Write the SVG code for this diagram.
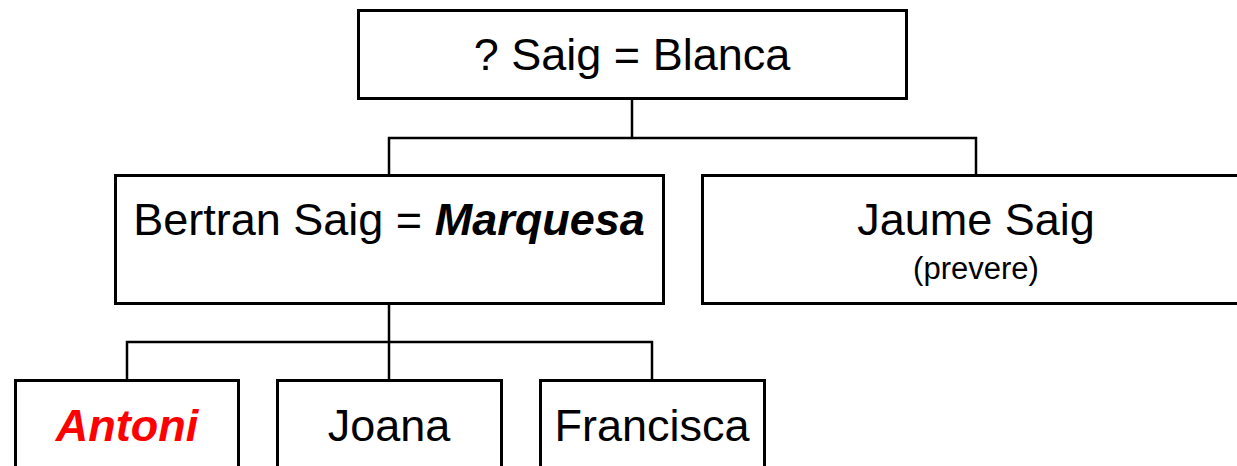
<svg xmlns="http://www.w3.org/2000/svg" width="1237" height="466" viewBox="0 0 1237 466">
<style>
.box{fill:#fff;stroke:#000;stroke-width:3}
.ln{fill:none;stroke:#000;stroke-width:2.5}
text{font-family:"Liberation Sans",Arial,sans-serif;font-size:45px;fill:#000;text-anchor:middle}
.bi{font-weight:bold;font-style:italic}
.red{fill:#ff0000}
.small{font-size:31px}
</style>
<rect width="1237" height="466" fill="#fff"/>
<g id="connectors">
<path class="ln" d="M632,98V138M389,175V138H976V175"/>
<path class="ln" d="M389,303V342M127,380V342H652V380M389,342V380"/>
</g>
<g id="n-top">
<rect class="box" x="358.5" y="10.5" width="548" height="88"/>
<text x="632" y="70">? Saig = Blanca</text>
</g>
<g id="n-bertran">
<rect class="box" x="115.5" y="175.5" width="548" height="128"/>
<text x="389" y="235">Bertran Saig = <tspan class="bi">Marquesa</tspan></text>
</g>
<g id="n-jaume">
<rect class="box" x="702.5" y="175.5" width="540" height="128"/>
<text x="976" y="235">Jaume Saig</text>
<text class="small" x="976" y="279">(prevere)</text>
</g>
<g id="n-antoni">
<rect class="box" x="15.5" y="380.5" width="223" height="100"/>
<text class="bi red" x="127" y="441">Antoni</text>
</g>
<g id="n-joana">
<rect class="box" x="277.5" y="380.5" width="224" height="100"/>
<text x="389" y="441">Joana</text>
</g>
<g id="n-francisca">
<rect class="box" x="540.5" y="380.5" width="224" height="100"/>
<text x="652" y="441">Francisca</text>
</g>
</svg>
